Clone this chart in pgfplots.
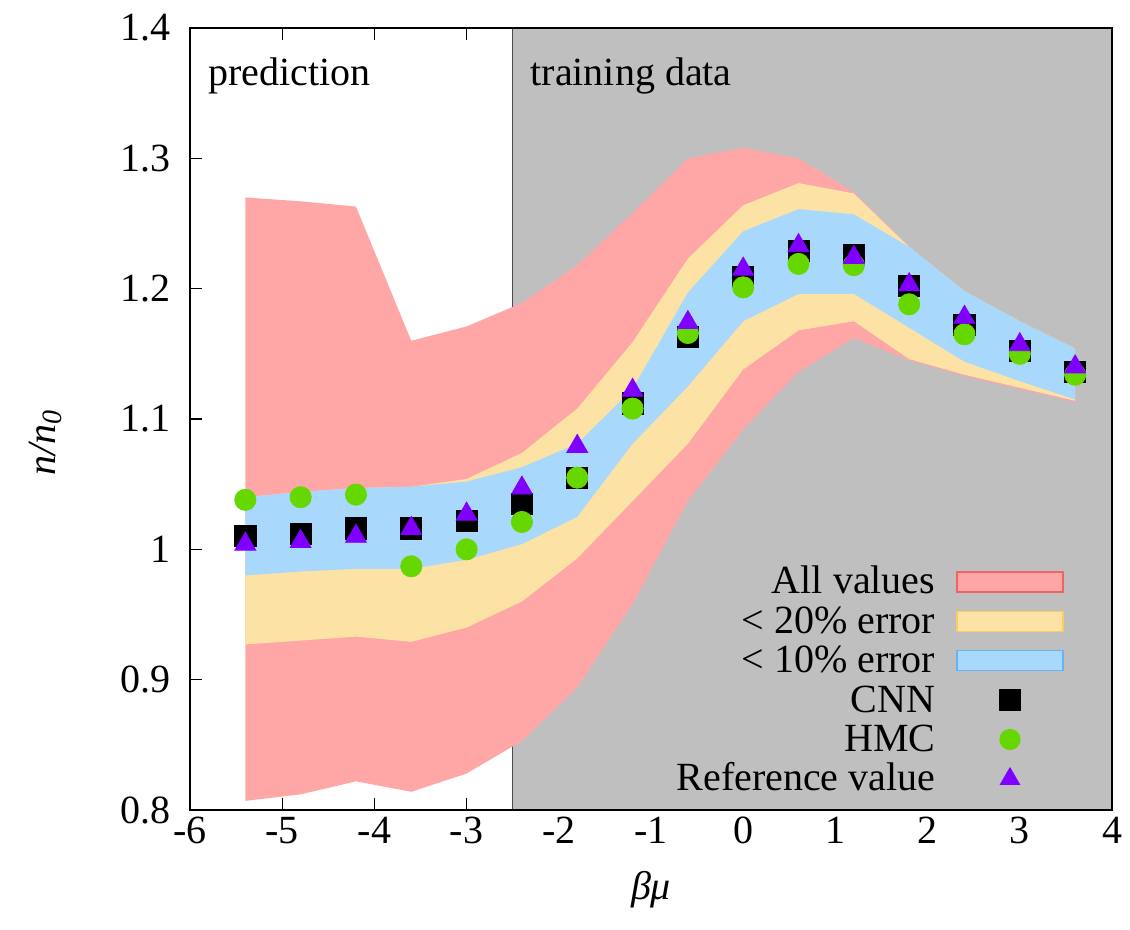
\documentclass[border=0pt]{standalone}
\usepackage{fontspec}
\setmainfont{Liberation Serif}
\usepackage{pgfplots}
\pgfplotsset{compat=1.18}
\usepackage{pgfplotstable}

\definecolor{cred}{RGB}{255,166,166}
\definecolor{credb}{RGB}{240,100,100}
\definecolor{cyel}{RGB}{253,226,165}
\definecolor{cyelb}{RGB}{250,205,100}
\definecolor{cblu}{RGB}{168,216,252}
\definecolor{cblub}{RGB}{105,178,240}
\definecolor{cgray}{RGB}{191,191,191}
\definecolor{cgreen}{RGB}{102,216,0}
\definecolor{cpurp}{RGB}{128,0,255}

% band outlines: upper edge left->right, then lower edge right->left
\pgfplotstableread{
x    y
-5.4 1.270
-4.8 1.267
-4.2 1.263
-3.6 1.160
-3.0 1.171
-2.4 1.189
-1.8 1.218
-1.2 1.258
-0.6 1.300
0.0  1.308
0.6  1.300
1.2  1.274
1.8  1.232
2.4  1.198
3.0  1.175
3.6  1.154
3.6  1.113
3.0  1.123
2.4  1.133
1.8  1.145
1.2  1.162
0.6  1.136
0.0  1.092
-0.6 1.037
-1.2 0.958
-1.8 0.894
-2.4 0.853
-3.0 0.828
-3.6 0.814
-4.2 0.822
-4.8 0.812
-5.4 0.807
}\redband

\pgfplotstableread{
x    y
-5.4 1.040
-4.8 1.044
-4.2 1.047
-3.6 1.048
-3.0 1.054
-2.4 1.074
-1.8 1.108
-1.2 1.159
-0.6 1.223
0.0  1.264
0.6  1.281
1.2  1.273
1.8  1.232
2.4  1.198
3.0  1.175
3.6  1.154
3.6  1.114
3.0  1.124
2.4  1.134
1.8  1.146
1.2  1.175
0.6  1.168
0.0  1.138
-0.6 1.081
-1.2 1.037
-1.8 0.993
-2.4 0.960
-3.0 0.940
-3.6 0.929
-4.2 0.933
-4.8 0.930
-5.4 0.927
}\yelband

\pgfplotstableread{
x    y
-5.4 1.040
-4.8 1.044
-4.2 1.047
-3.6 1.048
-3.0 1.052
-2.4 1.063
-1.8 1.081
-1.2 1.123
-0.6 1.197
0.0  1.244
0.6  1.261
1.2  1.257
1.8  1.232
2.4  1.198
3.0  1.175
3.6  1.154
3.6  1.115
3.0  1.129
2.4  1.144
1.8  1.170
1.2  1.196
0.6  1.196
0.0  1.175
-0.6 1.125
-1.2 1.081
-1.8 1.025
-2.4 1.004
-3.0 0.992
-3.6 0.985
-4.2 0.985
-4.8 0.983
-5.4 0.980
}\bluband

\pgfplotstableread{
x    cnn   hmc   ref
-5.4 1.010 1.038 1.004
-4.8 1.012 1.040 1.006
-4.2 1.016 1.042 1.010
-3.6 1.016 0.987 1.016
-3.0 1.022 1.000 1.027
-2.4 1.035 1.021 1.047
-1.8 1.055 1.055 1.079
-1.2 1.112 1.108 1.122
-0.6 1.163 1.166 1.174
0.0  1.209 1.201 1.215
0.6  1.229 1.219 1.233
1.2  1.226 1.218 1.224
1.8  1.202 1.188 1.203
2.4  1.172 1.165 1.178
3.0  1.152 1.150 1.157
3.6  1.136 1.134 1.140
}\points

\newcommand\fs{\fontsize{20}{24}\selectfont}
\newcommand\lbox{\path[draw=none, fill=none] (0pt,-3.7pt) rectangle (53pt,6.3pt);}

\begin{document}
\begin{tikzpicture}
\begin{axis}[
  scale only axis, width=461pt, height=391pt,
  xmin=-6, xmax=4, ymin=0.8, ymax=1.4,
  xtick={-6,-5,-4,-3,-2,-1,0,1,2,3,4},
  xticklabels={-6,-5,-4,-3,-2,-1,0,1,2,3,4},
  ytick={0.8,0.9,1,1.1,1.2,1.3,1.4},
  yticklabels={0.8,0.9,1,1.1,1.2,1.3,1.4},
  /pgf/number format/assume math mode=true,
  tick align=inside, major tick length=6pt,
  tick style={black, line width=0.6pt},
  axis line style={line width=1pt},
  tick label style={font=\fs},
  yticklabel style={xshift=-6pt},
  xlabel={\itshape βμ},
  ylabel={\textit{n/n}\textsubscript{\textit{0}}},
  label style={font=\fs},
  xlabel style={at={(axis description cs:0.5,-0.102)}, anchor=center},
  ylabel style={at={(axis description cs:-0.157,0.47)}, anchor=center},
  legend plot pos=right,
  legend cell align=right,
  legend style={draw=none, fill=none, font=\fs, inner sep=0pt, outer sep=0pt,
    at={(axis description cs:0.9476,0.0141)}, anchor=south east,
    nodes={inner sep=0pt, outer sep=0pt, text height=13.5pt, text depth=4pt},
    row sep=2.2pt, column sep=10.5pt},
]
% training region
\addplot[fill=cgray, draw=none, forget plot] coordinates {(-2.5,0.8) (4,0.8) (4,1.4) (-2.5,1.4)} -- cycle;
\addplot[black!70, line width=0.6pt, forget plot] coordinates {(-2.5,0.8) (-2.5,1.4)};

\addplot[fill=cred, draw=none,
  legend image code/.code={\lbox\draw[fill=cred, draw=credb, line width=0.7pt] (0pt,-3.7pt) rectangle (53pt,6.3pt);}]
  table[x=x,y=y]{\redband} -- cycle;
\addlegendentry{All values}
\addplot[fill=cyel, draw=none,
  legend image code/.code={\lbox\draw[fill=cyel, draw=cyelb, line width=0.7pt] (0pt,-3.7pt) rectangle (53pt,6.3pt);}]
  table[x=x,y=y]{\yelband} -- cycle;
\addlegendentry{< 20\% error}
\addplot[fill=cblu, draw=none,
  legend image code/.code={\lbox\draw[fill=cblu, draw=cblub, line width=0.7pt] (0pt,-3.7pt) rectangle (53pt,6.3pt);}]
  table[x=x,y=y]{\bluband} -- cycle;
\addlegendentry{< 10\% error}

\addplot[only marks, mark=square*, mark size=5.3pt, black, mark options={fill=black},
  legend image code/.code={\lbox\fill[black, draw=none] (21.2pt,-4pt) rectangle (31.8pt,6.6pt);}]
  table[x=x,y=cnn]{\points};
\addlegendentry{CNN}
\addplot[only marks, mark=*, mark size=5.3pt, cgreen, mark options={fill=cgreen, draw=cgreen},
  legend image code/.code={\lbox\fill[cgreen, draw=none] (26.5pt,1.3pt) circle (5.3pt);}]
  table[x=x,y=hmc]{\points};
\addlegendentry{HMC}
\addplot[only marks, mark=triangle*, mark size=6pt, cpurp, mark options={fill=cpurp, draw=cpurp},
  legend image code/.code={\lbox\fill[cpurp, draw=none] (26.5pt,7.3pt) -- (21.3pt,-1.7pt) -- (31.7pt,-1.7pt) -- cycle;}]
  table[x=x,y=ref]{\points};
\addlegendentry{Reference value}

\node[anchor=base west, inner sep=0pt, font=\fs] at (axis cs:-5.805,1.3555) {prediction};
\node[anchor=base west, inner sep=0pt, font=\fs] at (axis cs:-2.31,1.3555) {training data};
\end{axis}
\draw[line width=1pt] (current axis.south west) rectangle (current axis.north east);
\pgfresetboundingbox
\path ([shift={(-95pt,-60pt)}]current axis.south west) rectangle ([shift={(9pt,14pt)}]current axis.north east);
\end{tikzpicture}
\end{document}
